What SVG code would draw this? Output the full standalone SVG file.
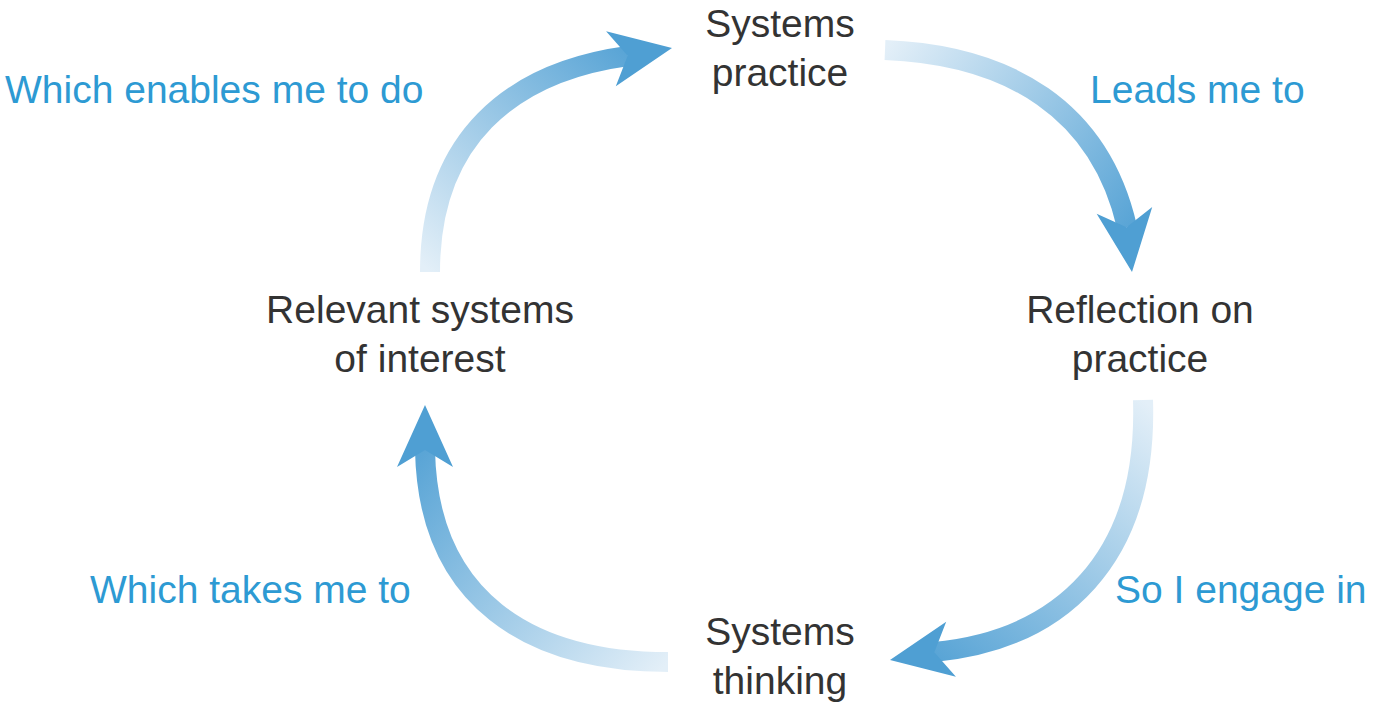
<svg xmlns="http://www.w3.org/2000/svg" width="1400" height="711" viewBox="0 0 1400 711">
<style>
.n{font-family:"Liberation Sans",Arial,sans-serif;font-size:39px;fill:#333;text-anchor:middle}
.l{font-family:"Liberation Sans",Arial,sans-serif;font-size:39px;fill:#2d9ad3}
.c{fill:none;stroke-width:20}
.h{fill:#4f9fd3}
</style>
<defs>
<linearGradient id="g1" gradientUnits="userSpaceOnUse" x1="885" y1="50" x2="1127" y2="227"><stop offset="0" stop-color="#e3eff8"/><stop offset="1" stop-color="#5aa5d6"/></linearGradient>
<linearGradient id="g2" gradientUnits="userSpaceOnUse" x1="1143" y1="400" x2="934" y2="652"><stop offset="0" stop-color="#e3eff8"/><stop offset="1" stop-color="#5aa5d6"/></linearGradient>
<linearGradient id="g3" gradientUnits="userSpaceOnUse" x1="668" y1="662" x2="425" y2="450"><stop offset="0" stop-color="#e3eff8"/><stop offset="1" stop-color="#5aa5d6"/></linearGradient>
<linearGradient id="g4" gradientUnits="userSpaceOnUse" x1="430" y1="272" x2="628" y2="56"><stop offset="0" stop-color="#e3eff8"/><stop offset="1" stop-color="#5aa5d6"/></linearGradient>
<polygon id="ah" points="0,0 -62,-28 -45,0 -62,28"/>
</defs>
<g id="connectors">
<path class="c" stroke="url(#g1)" d="M885,50 C1010,55 1100,110 1127,227"/>
<use href="#ah" class="h" transform="translate(1132,272) rotate(83)"/>
<path class="c" stroke="url(#g2)" d="M1143,400 C1148,560 1060,640 934,652"/>
<use href="#ah" class="h" transform="translate(890,660) rotate(170)"/>
<path class="c" stroke="url(#g3)" d="M668,662 C530,662 428,600 425,450"/>
<use href="#ah" class="h" transform="translate(425,405) rotate(-90)"/>
<path class="c" stroke="url(#g4)" d="M430,272 C430,140 510,72 628,56"/>
<use href="#ah" class="h" transform="translate(672,48) rotate(-10)"/>
</g>
<g id="n1"><text class="n" x="780" y="37">Systems</text><text class="n" x="780" y="86">practice</text></g>
<g id="n2"><text class="n" x="1140" y="323">Reflection on</text><text class="n" x="1140" y="372">practice</text></g>
<g id="n3"><text class="n" x="780" y="645">Systems</text><text class="n" x="780" y="694">thinking</text></g>
<g id="n4"><text class="n" x="420" y="323">Relevant systems</text><text class="n" x="420" y="372">of interest</text></g>
<text class="l" x="5" y="103">Which enables me to do</text>
<text class="l" x="1090" y="103">Leads me to</text>
<text class="l" x="90" y="603">Which takes me to</text>
<text class="l" x="1115" y="603">So I engage in</text>
</svg>
